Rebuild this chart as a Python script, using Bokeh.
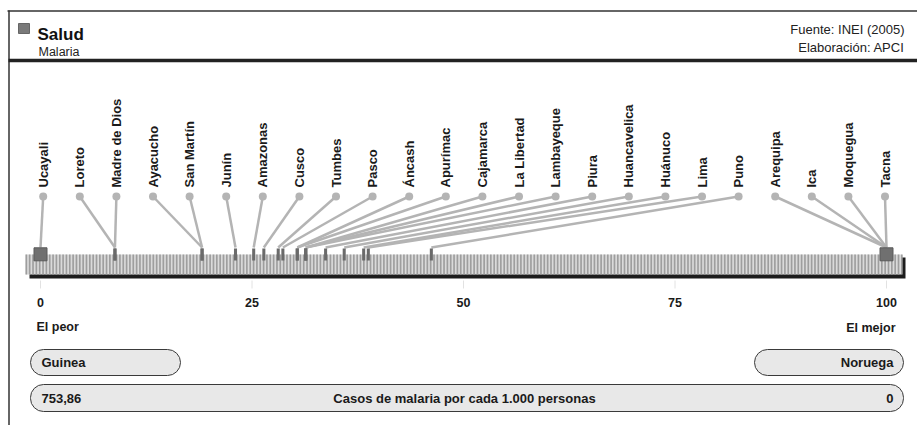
from bokeh.plotting import figure
from bokeh.models import Range1d, BoxAnnotation, ColumnDataSource
from bokeh.core.properties import value
from bokeh.embed import file_html
from bokeh.resources import INLINE
import numpy as np

# ---------------- data ----------------
regions = ["Ucayali", "Loreto", "Madre de Dios", "Ayacucho", "San Martín", "Junín",
           "Amazonas", "Cusco", "Tumbes", "Pasco", "Áncash", "Apurímac", "Cajamarca",
           "La Libertad", "Lambayeque", "Piura", "Huancavelica", "Huánuco", "Lima",
           "Puno", "Arequipa", "Ica", "Moquegua", "Tacna"]
scores = [0.0, 8.8, 8.8, 19.1, 19.1, 23.05,
          25.2, 26.4, 28.1, 28.65, 30.35, 30.35, 31.35,
          31.35, 31.35, 33.7, 35.9, 38.2, 38.75,
          46.2, 100.0, 100.0, 100.0, 100.0]
tick_values = [0, 25, 50, 75, 100]
tick_labels = ["0", "25", "50", "75", "100"]
worst_country = "Guinea"
best_country = "Noruega"
worst_value = "753,86"
best_value = "0"
indicator = "Casos de malaria por cada 1.000 personas"

# ---------------- layout helpers ----------------
PX0 = 40.0      # page x of value 0
PPU = 8.46      # pixels per unit
def px(xp):
    return (xp - PX0) / PPU

W, H = 917, 425
p = figure(width=W, height=H, output_backend="svg", toolbar_location=None,
           x_range=Range1d(px(0), px(W)), y_range=Range1d(H, 0),
           min_border=0, outline_line_color=None)
p.axis.visible = False
p.grid.visible = False
p.background_fill_color = "white"
p.border_fill_color = "white"

FONT = value("Liberation Sans")

# ---------------- frame & header ----------------
p.segment(x0=[px(7)], y0=[10.5], x1=[px(920)], y1=[10.5], line_color="#333333", line_width=1.5)
p.segment(x0=[px(8.5)], y0=[10], x1=[px(8.5)], y1=[430], line_color="#333333", line_width=1.5)
p.segment(x0=[px(8)], y0=[60], x1=[px(920)], y1=[60], line_color="#222222", line_width=3.5)
p.quad(left=[px(18)], right=[px(29)], top=[23], bottom=[33], fill_color="#7a7a7a",
       line_color="#666666", line_width=1)
p.text(x=[px(37)], y=[34], text=["Salud"], text_font=FONT, text_font_style="bold",
       text_font_size="17px", text_color="#111111", text_baseline="alphabetic")
p.text(x=[px(38)], y=[51.5], text=["Malaria"], text_font=FONT,
       text_font_size="12.5px", text_color="#222222", text_baseline="alphabetic")
p.text(x=[px(904)], y=[29], text=["Fuente: INEI (2005)"], text_font=FONT,
       text_font_size="13px", text_color="#222222", text_align="right",
       text_baseline="alphabetic")
p.text(x=[px(904)], y=[47], text=["Elaboración: APCI"], text_font=FONT,
       text_font_size="13px", text_color="#222222", text_align="right",
       text_baseline="alphabetic")

# ---------------- striped bar ----------------
BAR_T, BAR_B = 254, 274
p.quad(left=[px(29)], right=[px(905)], top=[BAR_T + 3], bottom=[BAR_B + 4],
       fill_color="#1c1c1c", line_color=None)
p.quad(left=[px(25)], right=[px(901)], top=[BAR_T], bottom=[BAR_B],
       fill_color="#dadada", line_color=None)
stripe_step = 0.395
sx = np.arange(px(25), px(901) - 0.05, stripe_step)
p.quad(left=sx, right=sx + stripe_step * 0.5, top=BAR_T, bottom=BAR_B,
       fill_color="#9e9e9e", line_color=None)

# ---------------- leaders, dots, labels ----------------
n = len(regions)
dot_x = [px(42.7 + i * 36.6) for i in range(n)]
DOT_Y, LINE_END = 196, 247
src = ColumnDataSource(dict(dx=dot_x, sc=scores, name=regions))
p.segment(x0="dx", y0=DOT_Y, x1="sc", y1=LINE_END, source=src,
          line_color="#b4b4b4", line_width=2.5)
p.scatter(x="dx", y=DOT_Y, source=src, size=8, fill_color="#b4b4b4", line_color=None)
p.text(x="dx", y=187, text="name", source=src, angle=np.pi / 2,
       text_font=FONT, text_font_style="bold", text_font_size="13px",
       text_color="#1a1a1a", text_align="left", text_baseline="middle")

# markers on the bar
mid = [s for s in scores if 0 < s < 100]
p.quad(left=[s - 0.18 for s in mid], right=[s + 0.18 for s in mid],
       top=248, bottom=260, fill_color="#6a6a6a", line_color=None)
ends = sorted(set(s for s in scores if s in (0.0, 100.0)))
p.rect(x=ends, y=253.8, width=13, height=13, width_units="screen",
       height_units="screen", fill_color="#707070", line_color="#5a5a5a")

# ---------------- scale ----------------
p.segment(x0=tick_values, y0=280, x1=tick_values, y1=288, line_color="#e2e2e2", line_width=1)
p.text(x=tick_values, y=[302] * 5, text=tick_labels, text_font=FONT,
       text_font_style="bold", text_font_size="12.5px", text_color="#1a1a1a",
       text_align="center", text_baseline="middle")
p.text(x=[px(36)], y=[326], text=["El peor"], text_font=FONT, text_font_style="bold",
       text_font_size="12.5px", text_color="#1a1a1a", text_baseline="middle")
p.text(x=[px(895)], y=[327], text=["El mejor"], text_font=FONT, text_font_style="bold",
       text_font_size="12.5px", text_color="#1a1a1a", text_align="right",
       text_baseline="middle")

# ---------------- pills ----------------
def pill(l, r, t, b):
    p.add_layout(BoxAnnotation(left=px(l), right=px(r), top=t, bottom=b,
                               border_radius=13, fill_color="#e8e8e8", fill_alpha=1,
                               line_color="#3a3a3a", line_width=1, line_alpha=1,
                               level="underlay"))

pill(30, 180, 349, 375)
pill(754, 903, 349, 375)
pill(30, 903, 384, 411)
p.text(x=[px(41)], y=[362], text=[worst_country], text_font=FONT, text_font_style="bold",
       text_font_size="13px", text_color="#1a1a1a", text_baseline="middle")
p.text(x=[px(893)], y=[362], text=[best_country], text_font=FONT, text_font_style="bold",
       text_font_size="13px", text_color="#1a1a1a", text_align="right",
       text_baseline="middle")
p.text(x=[px(41)], y=[397.5], text=[worst_value], text_font=FONT, text_font_style="bold",
       text_font_size="13px", text_color="#1a1a1a", text_baseline="middle")
p.text(x=[px(464)], y=[397.5], text=[indicator], text_font=FONT, text_font_style="bold",
       text_font_size="13px", text_color="#1a1a1a", text_align="center",
       text_baseline="middle")
p.text(x=[px(893)], y=[397.5], text=[best_value], text_font=FONT, text_font_style="bold",
       text_font_size="13px", text_color="#1a1a1a", text_align="right",
       text_baseline="middle")

open("out.html", "w").write(file_html(p, INLINE))
